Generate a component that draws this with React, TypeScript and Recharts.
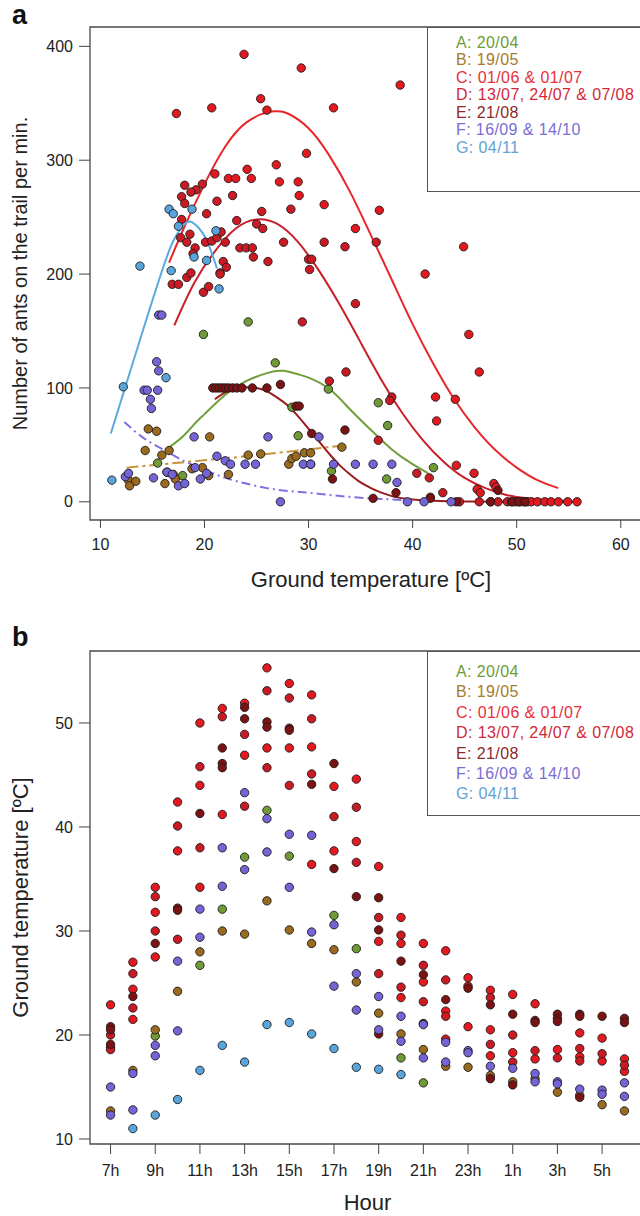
import React from 'react';
import { ComposedChart, Scatter, Line, XAxis, YAxis, ReferenceArea } from 'recharts';

type Pt = [number, number];

// panel a: ants per minute vs ground temperature, one array per sampling group
const antsA: Pt[] = [
  [15.5, 34], [17.9, 23], [19.9, 147], [24.2, 158], [26.8, 122], [28.4, 83], [29.0, 58],
  [31.9, 99], [32.2, 27], [36.7, 87], [37.6, 67], [37.5, 20], [42.0, 30],
];
const antsB: Pt[] = [
  [12.7, 19], [13.4, 18], [12.8, 14], [14.3, 45], [14.6, 64], [15.4, 62], [15.9, 41], [16.6, 45],
  [16.2, 16], [17.0, 24], [17.2, 20], [18.8, 29], [20.4, 23], [20.5, 57], [22.3, 24], [24.2, 41],
  [25.4, 42], [28.1, 33], [28.4, 38], [28.8, 40], [29.6, 43], [30.2, 43], [30.2, 33], [33.2, 48],
  [16.4, 26], [19.8, 30],
];
const antsC: Pt[] = [
  [23.8, 393], [29.3, 381], [25.4, 354], [26.0, 344], [17.3, 341], [20.7, 346], [32.4, 346],
  [38.8, 366], [29.8, 306], [26.9, 296], [24.1, 292], [24.5, 284], [22.3, 284], [23.0, 284],
  [21.0, 288], [27.2, 281], [29.0, 281], [29.1, 269], [31.5, 261], [36.8, 256], [34.5, 240],
  [44.9, 224], [41.2, 200], [45.4, 147], [46.4, 114], [42.2, 92], [44.1, 90], [42.3, 71],
  [44.2, 32], [45.9, 25], [47.8, 16], [48.0, 13], [46.2, 11], [46.5, 8], [51.0, 0], [51.4, 0],
  [52.0, 0], [52.7, 0], [53.3, 0], [54.0, 0], [54.9, 0], [55.8, 0],
];
const antsD: Pt[] = [
  [18.1, 278], [19.8, 279], [19.2, 274], [18.7, 272], [17.8, 268], [18.1, 262], [21.2, 264],
  [22.7, 269], [25.5, 255], [28.3, 257], [20.2, 253], [23.1, 247], [25.0, 244], [25.6, 240],
  [27.6, 228], [17.8, 248], [18.6, 235], [17.7, 232], [18.3, 228], [20.1, 228], [20.7, 229],
  [21.2, 232], [21.6, 237], [22.0, 228], [19.1, 223], [18.9, 218], [23.4, 223], [24.0, 223],
  [24.6, 223], [24.7, 215], [26.1, 211], [21.8, 211], [22.1, 206], [21.5, 201], [30.0, 213],
  [16.9, 191], [17.5, 191], [18.3, 197], [18.7, 201], [19.9, 184], [20.4, 189], [21.5, 200],
  [29.4, 158], [31.5, 228], [33.5, 224], [36.5, 228], [30.3, 213], [30.1, 204], [34.5, 174],
  [33.6, 114], [32.0, 106], [38.0, 92], [37.8, 89], [36.7, 54], [40.4, 25], [41.6, 21],
  [42.9, 8], [41.7, 4], [44.5, 0], [46.4, 0], [47.5, 0], [48.2, 0], [49.1, 0], [49.5, 0],
  [49.9, 0], [50.3, 0], [50.7, 0],
];
const antsE: Pt[] = [
  [20.8, 100], [21.1, 100], [21.4, 100], [21.7, 100], [22.0, 100], [22.3, 100], [22.7, 100],
  [23.1, 100], [23.6, 100], [24.6, 100], [26.0, 100], [27.3, 103], [28.8, 84], [29.1, 84],
  [30.3, 60], [33.5, 63], [32.3, 20], [36.2, 3], [38.4, 8], [41.7, 3], [44.2, 0], [47.5, 0],
  [48.2, 10], [49.6, 0], [50.2, 0], [50.8, 0],
];
const antsF: Pt[] = [
  [12.4, 22], [12.7, 25], [14.2, 98], [14.5, 98], [15.5, 98], [14.8, 90], [14.9, 82], [15.4, 123],
  [15.6, 115], [15.6, 164], [15.9, 164], [15.1, 21], [16.4, 26], [16.9, 24], [17.5, 14], [18.1, 16],
  [19.0, 57], [19.1, 30], [19.6, 20], [20.2, 25], [21.2, 40], [22.0, 36], [22.5, 33], [23.9, 33],
  [24.9, 33], [26.1, 57], [27.3, 0], [29.5, 33], [30.2, 33], [31.0, 57], [32.4, 33], [34.5, 33],
  [36.2, 33], [38.0, 33], [38.5, 17], [39.5, 0], [41.1, 0], [43.7, 0],
];
const antsG: Pt[] = [
  [11.1, 19], [12.2, 101], [13.8, 207], [16.3, 109], [16.6, 257], [17.0, 253], [16.8, 203],
  [17.5, 242], [18.8, 257], [19.0, 215], [20.2, 212], [21.1, 238], [21.4, 187],
];

// fitted curves
const fitA: Pt[] = [
  [16.5, 47], [18, 58], [19, 68], [20, 77], [22, 94], [24, 106], [26, 113], [27.5, 115], [29, 112],
  [30, 109], [32, 99], [34, 81], [36, 63], [38, 46], [40, 33], [41.5, 25],
];
const fitB: Pt[] = [[12.5, 30], [16, 33], [20, 36.5], [24, 40], [28, 44], [33, 49]];
const fitC: Pt[] = [
  [16.6, 210], [18, 240], [20, 279], [22, 312], [24, 333], [26, 342], [27, 343], [28, 341],
  [30, 328], [32, 304], [34, 272], [36, 234], [38, 195], [40, 156], [42, 121], [44, 90], [46, 65],
  [48, 45], [50, 30], [52, 19], [54, 12],
];
const fitD: Pt[] = [
  [17.1, 155], [19, 192], [21, 220], [23, 240], [25, 248], [27, 244], [29, 228], [31, 203],
  [33, 173], [35, 140], [37, 107], [39, 78], [41, 54], [43, 35], [45, 21], [47, 12], [49, 6],
  [51, 3], [53, 1.5], [55, 0.5],
];
const fitE: Pt[] = [
  [21, 90], [22, 96], [23, 99.5], [24, 100.5], [25, 100], [26, 97], [27, 91.5], [28, 84.5],
  [29, 75], [30, 64], [31, 53], [32, 42], [33, 32], [34, 24], [35, 17], [36, 12], [37, 8], [38, 5],
  [40, 2], [42, 0.8], [45, 0.2], [50, 0], [55.5, 0],
];
const fitF: Pt[] = [
  [12.3, 70], [14, 57], [16, 46], [18, 36], [20, 28], [22, 21], [24, 16], [26, 12], [28, 9.5],
  [30, 8], [32, 6], [35, 3.5], [38, 2], [40, 1],
];
const fitG: Pt[] = [
  [11, 60], [12.5, 104], [14, 148], [15, 177], [16, 205], [17, 229], [18, 243], [18.7, 246],
  [19.5, 240], [20.3, 228], [21.2, 205],
];

// panel b: ground temperature by hour (24 = midnight, 30 = 6h next morning)
const tempA: Pt[] = [
  [9, 19.9], [11, 26.7], [12, 32.1], [13, 37.1], [14, 41.6], [15, 37.2], [17, 31.5], [18, 28.3],
  [20, 17.8], [21, 15.4],
];
const tempB: Pt[] = [
  [7, 12.7], [8, 16.6], [9, 20.5], [10, 24.2], [11, 28.0], [12, 30.0], [13, 29.7], [14, 32.9],
  [15, 30.1], [16, 28.8], [17, 28.2], [18, 25.1], [19, 22.1], [20, 20.1], [21, 18.6], [22, 17.0],
  [23, 16.9], [24, 16.1], [25, 15.5], [26, 15.8], [27, 14.5], [28, 14.2], [29, 13.3], [30, 12.7],
];
const tempC: Pt[] = [
  [7, 22.9], [7, 18.8], [8, 27.0], [8, 24.4], [8, 21.5], [9, 34.2], [9, 31.8], [9, 27.5],
  [10, 42.4], [10, 37.7], [11, 50.0], [11, 44.0], [11, 34.2], [12, 51.4], [12, 41.2], [13, 51.9],
  [13, 46.9], [14, 55.3], [14, 47.6], [15, 53.8], [15, 47.6], [16, 52.7], [16, 47.7], [16, 36.4],
  [17, 43.9], [17, 37.7], [18, 44.6], [18, 38.6], [19, 36.2], [19, 29.0], [20, 31.3], [20, 28.8],
  [20, 23.6], [21, 28.8], [21, 25.1], [22, 28.1], [22, 22.3], [22, 19.6], [23, 25.5], [23, 20.8],
  [24, 24.3], [24, 20.5], [24, 18.0], [25, 23.9], [25, 18.3], [26, 23.0], [26, 17.7], [27, 18.6],
  [28, 20.2], [28, 17.9], [29, 19.7], [29, 17.5], [30, 17.7], [30, 16.5],
];
const tempD: Pt[] = [
  [7, 20.0], [7, 18.6], [8, 25.9], [8, 22.6], [9, 33.3], [9, 30.0], [10, 40.1], [10, 29.2],
  [11, 45.8], [11, 38.0], [12, 50.6], [13, 48.9], [13, 42.0], [14, 53.1], [14, 45.7], [15, 52.4],
  [15, 44.0], [16, 50.4], [16, 45.1], [17, 41.0], [18, 41.9], [18, 36.6], [19, 31.3], [19, 25.9],
  [20, 29.6], [20, 24.6], [21, 26.7], [21, 23.2], [22, 25.3], [22, 21.8], [23, 24.7], [24, 23.6],
  [24, 19.1], [25, 20.0], [25, 17.4], [26, 18.5], [27, 17.8], [28, 18.7], [28, 17.5], [29, 18.2],
  [30, 17.1],
];
const tempE: Pt[] = [
  [7, 20.8], [7, 20.5], [7, 19.1], [8, 23.7], [9, 28.8], [10, 32.2], [10, 32.0], [11, 41.3],
  [12, 47.6], [12, 46.1], [12, 45.7], [13, 51.5], [13, 50.4], [14, 50.1], [14, 49.6], [15, 49.5],
  [15, 49.3], [16, 44.1], [17, 46.1], [17, 36.0], [18, 33.3], [19, 33.2], [19, 30.1], [19, 20.1],
  [20, 27.1], [21, 25.8], [21, 21.1], [22, 23.4], [23, 24.5], [24, 22.9], [24, 15.8], [25, 22.0],
  [25, 15.2], [26, 21.4], [26, 21.2], [27, 22.0], [27, 21.6], [27, 21.3], [28, 22.0], [28, 21.8],
  [28, 14.0], [29, 21.8], [30, 21.6], [30, 21.2],
];
const tempF: Pt[] = [
  [7, 15.0], [7, 12.3], [8, 16.3], [8, 12.8], [9, 19.0], [9, 18.0], [10, 27.1], [10, 20.4],
  [11, 32.1], [11, 29.4], [12, 38.0], [12, 34.3], [13, 43.3], [13, 35.9], [14, 40.8], [14, 37.6],
  [15, 39.3], [15, 34.2], [16, 39.2], [16, 29.9], [17, 30.6], [17, 24.7], [18, 25.9], [18, 22.4],
  [19, 23.7], [19, 20.5], [20, 21.8], [20, 19.4], [21, 21.0], [21, 17.8], [22, 19.3], [22, 17.4],
  [23, 18.5], [23, 18.3], [24, 17.0], [25, 16.8], [26, 16.3], [26, 15.5], [27, 15.5], [27, 15.3],
  [28, 14.8], [29, 14.7], [29, 14.3], [30, 15.4], [30, 14.1],
];
const tempG: Pt[] = [
  [8, 11.0], [9, 12.3], [10, 13.8], [11, 16.6], [12, 19.0], [13, 17.4], [14, 21.0], [15, 21.2],
  [16, 20.1], [17, 18.7], [18, 16.9], [19, 16.7], [20, 16.2],
];

const groupNames = [
  'A: 20/04', 'B: 19/05', 'C: 01/06 & 01/07', 'D: 13/07, 24/07 & 07/08',
  'E: 21/08', 'F: 16/09 & 14/10', 'G: 04/11',
];
const tempTicks = [10, 20, 30, 40, 50, 60];
const antTicks = [0, 100, 200, 300, 400];
const groundTicks = [10, 20, 30, 40, 50];
const hourTicks = [7, 9, 11, 13, 15, 17, 19, 21, 23, 25, 27, 29];
const hourLabels = ['7h', '9h', '11h', '13h', '15h', '17h', '19h', '21h', '23h', '1h', '3h', '5h'];

const FONT = '"Liberation Sans", Arial, Helvetica, sans-serif';
const dotFill = ['#6f9a35', '#9a6a1f', '#e3191f', '#cc1a24', '#7c1212', '#7464d8', '#5aa4dc'];
const textFill = ['#6f9a35', '#a47c2c', '#e8303a', '#d2283a', '#8e2a2a', '#7a6ed2', '#62a2d4'];
const lineStroke = ['#6f9e3a', '#c8923a', '#e8262b', '#c81f2a', '#9a1c1c', '#8070e0', '#5aaae0'];
const lineDash = [undefined, '12 4 3 4', undefined, undefined, undefined, '9 4 2 4', undefined];
// smooth peaks for the bell-shaped fits, monotone for the decaying ones
const lineCurve: ('natural' | 'monotone')[] = ['natural', 'monotone', 'natural', 'natural', 'monotone', 'monotone', 'natural'];

const antsGroups = [antsA, antsB, antsC, antsD, antsE, antsF, antsG];
const fitGroups = [fitA, fitB, fitC, fitD, fitE, fitF, fitG];
const tempGroups = [tempA, tempB, tempC, tempD, tempE, tempF, tempG];

const toXY = (pts: Pt[]) => pts.map(([x, y]) => ({ x, y }));

const dotShape = (fill: string) => (props: any) => (
  <circle cx={props.cx} cy={props.cy} r={4.2} fill={fill} stroke="#1c1c1c" strokeWidth={0.9} />
);

const tickStyle = { fontSize: 16, fill: '#222', fontFamily: FONT };
const titleStyle = { fontSize: 22, fill: '#222', fontFamily: FONT };

const LegendBox = ({ top, lineHeight, padTop }: { top: number; lineHeight: number; padTop: number }) => (
  <div
    style={{
      position: 'absolute', left: 427, top, width: 240, height: 165, boxSizing: 'border-box',
      border: '1.5px solid #555', background: '#fff', paddingTop: padTop, paddingLeft: 28,
      fontFamily: FONT, fontSize: 16, lineHeight: `${lineHeight}px`, letterSpacing: 0.4,
    }}
  >
    {groupNames.map((n, i) => (
      <div key={n} style={{ color: textFill[i], whiteSpace: 'nowrap' }}>{n}</div>
    ))}
  </div>
);

const PanelTag = ({ text, top }: { text: string; top: number }) => (
  <div style={{ position: 'absolute', left: 12, top, fontFamily: FONT, fontSize: 27, fontWeight: 'bold', lineHeight: '27px', color: '#111' }}>
    {text}
  </div>
);

const App: React.FC = () => {
  return (
    <div style={{ position: 'absolute', left: 0, top: 0, width: 640, height: 1216, overflow: 'hidden', background: '#fff' }}>
      <PanelTag text="a" top={2} />
      <div style={{ position: 'absolute', left: 0, top: 0 }}>
        <ComposedChart width={700} height={600} margin={{ top: 27, right: 48, bottom: 0, left: 0 }} style={{ fontFamily: FONT }}>
          <XAxis
            type="number" dataKey="x" domain={[9, 63]} ticks={tempTicks} interval={0} height={80}
            axisLine={false} tickSize={8} tickMargin={11} tick={tickStyle} tickLine={{ stroke: '#444' }}
            label={{ value: 'Ground temperature [ºC]', position: 'insideBottom', offset: 13, ...titleStyle }}
          />
          <YAxis
            type="number" dataKey="y" domain={[-16, 417]} ticks={antTicks} interval={0} width={90}
            axisLine={false} tickSize={11} tickMargin={6} tick={tickStyle} tickLine={{ stroke: '#444' }}
            label={{ value: 'Number of ants on the trail per min.', angle: -90, position: 'insideLeft', offset: 20, style: { textAnchor: 'middle' }, ...titleStyle, fontSize: 20 }}
          />
          <ReferenceArea x1={9} x2={63} y1={-16} y2={417} fill="none" stroke="#4a4a4a" strokeWidth={1.3} />
          {antsGroups.map((g, i) => (
            <Scatter key={'s' + i} data={toXY(g)} shape={dotShape(dotFill[i])} isAnimationActive={false} />
          ))}
          {fitGroups.map((g, i) => (
            <Line
              key={'l' + i} data={toXY(g)} dataKey="y" type={lineCurve[i]} dot={false} activeDot={false}
              stroke={lineStroke[i]} strokeWidth={2} strokeDasharray={lineDash[i]} isAnimationActive={false}
            />
          ))}
        </ComposedChart>
      </div>
      <LegendBox top={26.5} lineHeight={17.5} padTop={6} />

      <PanelTag text="b" top={624} />
      <div style={{ position: 'absolute', left: 0, top: 620 }}>
        <ComposedChart width={700} height={596} margin={{ top: 31, right: 55, bottom: 0, left: 0 }} style={{ fontFamily: FONT }}>
          <XAxis
            type="number" dataKey="x" domain={[6.08, 30.92]} ticks={hourTicks} interval={0} height={72}
            axisLine={false} tickSize={10} tickMargin={11} tick={tickStyle} tickLine={{ stroke: '#444' }}
            tickFormatter={(v: number) => hourLabels[hourTicks.indexOf(v)]}
            label={{ value: 'Hour', position: 'insideBottom', offset: 6, ...titleStyle }}
          />
          <YAxis
            type="number" dataKey="y" domain={[9.52, 56.92]} ticks={groundTicks} interval={0} width={90}
            axisLine={false} tickSize={11} tickMargin={6} tick={tickStyle} tickLine={{ stroke: '#444' }}
            label={{ value: 'Ground temperature [ºC]', angle: -90, position: 'insideLeft', offset: 20, style: { textAnchor: 'middle' }, ...titleStyle }}
          />
          <ReferenceArea x1={6.08} x2={30.92} y1={9.52} y2={56.92} fill="none" stroke="#4a4a4a" strokeWidth={1.3} />
          {tempGroups.map((g, i) => (
            <Scatter key={'t' + i} data={toXY(g)} shape={dotShape(dotFill[i])} isAnimationActive={false} />
          ))}
        </ComposedChart>
      </div>
      <LegendBox top={651} lineHeight={20.4} padTop={10} />
    </div>
  );
};

export default App;
